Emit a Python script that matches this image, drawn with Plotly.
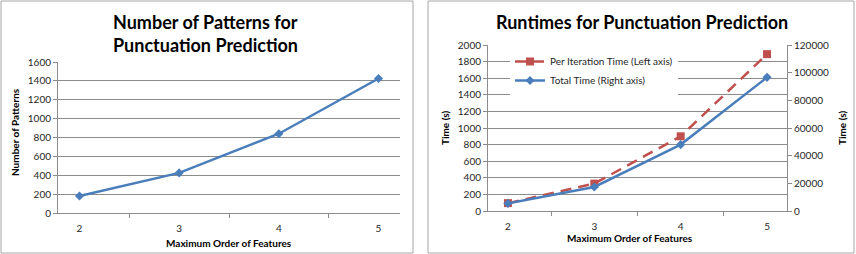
import plotly.graph_objects as go

orders = ["2", "3", "4", "5"]
patterns = [180, 425, 840, 1425]
per_iter_time = [95, 330, 900, 1890]
total_time = [5500, 17400, 48000, 96600]

W, H = 856, 254
FONT = "Lato"
BLUE = "#4A7EBB"
RED = "#C0504D"
GRID = "#8C8C8C"
TXT = "#262626"

def px(x):
    return x / W

def py(y):
    return 1 - y / H

fig = go.Figure()

fig.add_trace(go.Scatter(x=orders, y=patterns, mode="lines+markers",
                         line=dict(color=BLUE, width=2.5),
                         marker=dict(symbol="diamond", size=7, color=BLUE),
                         xaxis="x", yaxis="y", showlegend=False))

fig.add_trace(go.Scatter(x=orders, y=per_iter_time, mode="lines+markers",
                         name="Per Iteration Time (Left axis)",
                         line=dict(color=RED, width=2.5, dash="11px,7px"),
                         marker=dict(symbol="square", size=8, color=RED),
                         xaxis="x2", yaxis="y2"))
fig.add_trace(go.Scatter(x=orders, y=total_time, mode="lines+markers",
                         name="Total Time (Right axis)",
                         line=dict(color=BLUE, width=2.5),
                         marker=dict(symbol="diamond", size=7, color=BLUE),
                         xaxis="x2", yaxis="y3"))

tickfont = dict(family=FONT, size=10, color=TXT)
xcommon = dict(type="category", tickson="boundaries", ticks="outside", ticklen=4,
               tickcolor=GRID, showline=True, linecolor=GRID, linewidth=1,
               showgrid=False, tickfont=tickfont, automargin=False, ticklabelstandoff=6)
ycommon = dict(ticks="outside", ticklen=4, tickcolor=GRID, showline=True,
               linecolor=GRID, linewidth=1, showgrid=True, gridcolor=GRID,
               gridwidth=1, zeroline=False, tickfont=tickfont, automargin=False,
               tickformat="d")

fig.update_layout(
    width=W, height=H, margin=dict(l=0, r=0, t=0, b=0, autoexpand=False),
    paper_bgcolor="white", plot_bgcolor="white",
    font=dict(family=FONT, color=TXT),
    xaxis=dict(domain=[px(58), px(400)], anchor="y", **xcommon),
    yaxis=dict(domain=[py(213), py(62)], anchor="x", range=[0, 1600], dtick=200, **ycommon),
    xaxis2=dict(domain=[px(488), px(787)], anchor="y2", **xcommon),
    yaxis2=dict(domain=[py(211), py(45)], anchor="x2", range=[0, 2000], dtick=200, **ycommon),
    yaxis3=dict(overlaying="y2", side="right", anchor="x2", range=[0, 120000], dtick=20000,
                ticks="outside", ticklen=4, tickcolor=GRID, showline=True, linecolor=GRID,
                showgrid=False, zeroline=False, tickfont=tickfont, automargin=False,
                tickformat="d"),
    legend=dict(x=px(510), y=py(47), xanchor="left", yanchor="top",
                bgcolor="white", font=dict(family=FONT, size=10, color=TXT),
                tracegroupgap=0, itemwidth=30),
    showlegend=True,
)

shapes = [
    dict(type="rect", xref="paper", yref="paper", x0=px(1), x1=px(413), y0=py(253), y1=py(1),
         line=dict(color="#A6A6A6", width=1)),
    dict(type="rect", xref="paper", yref="paper", x0=px(428), x1=px(854), y0=py(253), y1=py(1),
         line=dict(color="#A6A6A6", width=1)),
]
fig.update_layout(shapes=shapes)

ann = []
def A(text, x, y, size, bold=True, angle=0):
    t = f"<b>{text}</b>" if bold else text
    ann.append(dict(text=t, x=px(x), y=py(y), xref="paper", yref="paper",
                    showarrow=False, xanchor="center", yanchor="middle",
                    textangle=angle, font=dict(family=FONT, size=size, color="black")))

A("Number of Patterns for", 205, 22, 18)
A("Punctuation Prediction", 205, 45, 18)
A("Runtimes for Punctuation Prediction", 642, 22, 18)
A("Maximum Order of Features", 229, 243, 10)
A("Maximum Order of Features", 630, 238, 10)
A("Number of Patterns", 15, 132, 10, angle=-90)
A("Time (s)", 445, 128, 10, angle=-90)
A("Time (s)", 842, 128, 10, angle=-90)
fig.update_layout(annotations=ann)

fig.write_html("out.html")
